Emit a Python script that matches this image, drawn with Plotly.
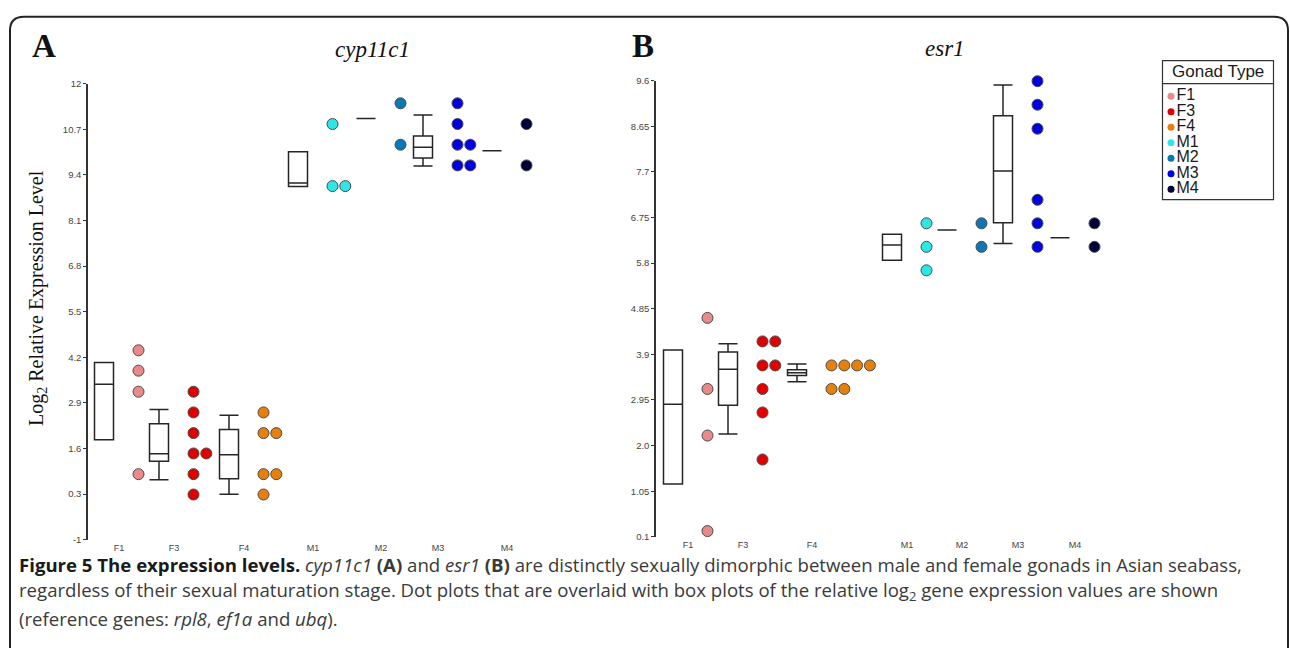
import plotly.graph_objects as go

W, H = 1290, 648

# ---------------- data ----------------
groups = ["F1", "F3", "F4", "M1", "M2", "M3", "M4"]
colors = ["#E88A8A", "#E00000", "#E6800A", "#2EE6E6", "#0A78B4", "#0000E0", "#000038"]

# panel A: cyp11c1 dot values
a_dots = {
    "F1": [4.40, 3.82, 3.22, 0.87],
    "F3": [3.22, 2.63, 2.04, 1.46, 1.46, 0.87, 0.29],
    "F4": [2.63, 2.04, 2.04, 0.87, 0.87, 0.29],
    "M1": [10.85, 9.08, 9.08],
    "M2": [11.44, 10.26],
    "M3": [11.44, 10.85, 10.26, 10.26, 9.67, 9.67],
    "M4": [10.85, 9.67],
}
# panel A box stats: q1, median, q3, lower whisker, upper whisker
a_q1 = [1.85, 1.24, 0.74, 9.07, 11.01, 9.88, 10.09]
a_med = [3.43, 1.45, 1.42, 9.17, 11.01, 10.19, 10.09]
a_q3 = [4.05, 2.31, 2.14, 10.06, 11.01, 10.51, 10.09]
a_lo = [1.85, 0.71, 0.30, 9.07, 11.01, 9.65, 10.09]
a_hi = [4.05, 2.71, 2.55, 10.06, 11.01, 11.11, 10.09]

# panel B: esr1 dot values
b_dots = {
    "F1": [4.66, 3.18, 2.21, 0.22],
    "F3": [4.17, 4.17, 3.67, 3.67, 3.18, 2.69, 1.71],
    "F4": [3.67, 3.67, 3.67, 3.67, 3.18, 3.18],
    "M1": [6.63, 6.14, 5.65],
    "M2": [6.63, 6.14],
    "M3": [9.59, 9.10, 8.60, 7.12, 6.63, 6.14],
    "M4": [6.63, 6.14],
}
b_q1 = [1.20, 2.84, 3.46, 5.86, 6.49, 6.64, 6.33]
b_med = [2.86, 3.59, 3.52, 6.18, 6.49, 7.72, 6.33]
b_q3 = [3.99, 3.95, 3.58, 6.40, 6.49, 8.87, 6.33]
b_lo = [1.20, 2.24, 3.33, 5.86, 6.49, 6.21, 6.33]
b_hi = [3.99, 4.12, 3.70, 6.40, 6.49, 9.51, 6.33]

a_ticks = [-1, 0.3, 1.6, 2.9, 4.2, 5.5, 6.8, 8.1, 9.4, 10.7, 12]
a_ticktext = ["-1", "0.3", "1.6", "2.9", "4.2", "5.5", "6.8", "8.1", "9.4", "10.7", "12"]
b_ticks = [0.1, 1.05, 2.0, 2.95, 3.9, 4.85, 5.8, 6.75, 7.7, 8.65, 9.6]
b_ticktext = ["0.1", "1.05", "2.0", "2.95", "3.9", "4.85", "5.8", "6.75", "7.7", "8.65", "9.6"]

# ---------------- layout constants ----------------
# group slot positions along each x axis (axis units)
a_pos = [31, 86, 156, 225, 293, 350, 419]
b_pos = [32, 87, 156, 251, 306, 362, 419]
BOX_OFF, DOT_OFF, DOT_STEP, BOX_W = -15, 19.5, 12.8, 19

fig = go.Figure()


def add_panel(dots, q1, med, q3, lo, hi, pos, xa, ya):
    for i, g in enumerate(groups):
        fig.add_trace(go.Box(
            x=[pos[i] + BOX_OFF], q1=[q1[i]], median=[med[i]], q3=[q3[i]],
            lowerfence=[lo[i]], upperfence=[hi[i]], width=BOX_W, whiskerwidth=1,
            fillcolor="white", line=dict(color="#262626", width=1.5),
            boxpoints=False, showlegend=False, xaxis=xa, yaxis=ya, hoverinfo="skip"))
        xs, ys, seen = [], [], {}
        for v in dots[g]:
            k = seen.get(v, 0)
            seen[v] = k + 1
            xs.append(pos[i] + DOT_OFF + k * DOT_STEP)
            ys.append(v)
        fig.add_trace(go.Scatter(
            x=xs, y=ys, mode="markers", cliponaxis=False, showlegend=False,
            marker=dict(size=11, color=colors[i], line=dict(color="#4a4a4a", width=1)),
            xaxis=xa, yaxis=ya))


add_panel(a_dots, a_q1, a_med, a_q3, a_lo, a_hi, a_pos, "x", "y")
add_panel(b_dots, b_q1, b_med, b_q3, b_lo, b_hi, b_pos, "x2", "y2")

# custom legend drawn on its own small axis
leg_y = [11.7 + 15.8 * i for i in range(len(groups))]
for i, g in enumerate(groups):
    fig.add_trace(go.Scatter(
        x=[8], y=[leg_y[i]], mode="markers+text", text=[g], textposition="middle right",
        textfont=dict(family="Liberation Sans, Arial", size=16, color="#1a1a1a"),
        marker=dict(size=7, color=colors[i]), showlegend=False, cliponaxis=False,
        xaxis="x3", yaxis="y3"))


def px(x):
    return x / W


def py(y):
    return 1 - y / H


tickfont = dict(family="Liberation Sans Narrow, Arial Narrow, Liberation Sans", size=9.5, color="#444")
xfont = dict(family="Liberation Sans Narrow, Arial Narrow, Liberation Sans", size=9, color="#444")

common_y = dict(showline=True, linecolor="#333", linewidth=1.5, ticks="outside", ticklen=3,
                tickcolor="#333", tickwidth=1.2, showgrid=False, zeroline=False, tickfont=tickfont)
common_x = dict(showline=False, ticks="", showgrid=False, zeroline=False, tickfont=xfont,
                ticklabelstandoff=1)

fig.update_layout(
    width=W, height=H, margin=dict(l=0, r=0, t=0, b=0),
    paper_bgcolor="white", plot_bgcolor="rgba(0,0,0,0)",
    boxmode="overlay", showlegend=False,
    xaxis=dict(domain=[px(88), px(560)], range=[0, 472], anchor="y",
               tickvals=a_pos, ticktext=groups, **common_x),
    yaxis=dict(domain=[py(543), py(79)], range=[-1, 12], anchor="x",
               tickvals=a_ticks, ticktext=a_ticktext, **common_y),
    xaxis2=dict(domain=[px(656), px(1128)], range=[0, 472], anchor="y2",
                tickvals=b_pos, ticktext=groups, **common_x),
    yaxis2=dict(domain=[py(540), py(76)], range=[0.1, 9.6], anchor="x2",
                tickvals=b_ticks, ticktext=b_ticktext, **common_y),
    xaxis3=dict(domain=[px(1163), px(1273)], range=[0, 110], anchor="y3", visible=False),
    yaxis3=dict(domain=[py(196), py(80)], range=[116, 0], anchor="x3", visible=False),
)

# outer rounded border and legend frame
r = 14
x0, y0, x1, y1 = 10, 11, 1288, 720
path = (f"M {px(x0)},{py(y1)} L {px(x0)},{py(y0 + r)} Q {px(x0)},{py(y0)} {px(x0 + r)},{py(y0)} "
        f"L {px(x1 - r)},{py(y0)} Q {px(x1)},{py(y0)} {px(x1)},{py(y0 + r)} L {px(x1)},{py(y1)}")
fig.add_shape(type="path", path=path, xref="paper", yref="paper",
              line=dict(color="#222", width=2))
fig.add_shape(type="rect", xref="paper", yref="paper", x0=px(1162.5), x1=px(1273.5),
              y0=py(197), y1=py(55.5), line=dict(color="#333", width=1.2))
fig.add_shape(type="line", xref="paper", yref="paper", x0=px(1162.5), x1=px(1273.5),
              y0=py(79), y1=py(79), line=dict(color="#333", width=1.2))

serif = "Liberation Serif, Times New Roman, serif"
ann = [
    dict(text="<b>A</b>", x=px(44), y=py(41), font=dict(family=serif, size=33, color="#111")),
    dict(text="<b>B</b>", x=px(643), y=py(41), font=dict(family=serif, size=33, color="#111")),
    dict(text="<i>cyp11c1</i>", x=px(372), y=py(44), font=dict(family=serif, size=23, color="#111")),
    dict(text="<i>esr1</i>", x=px(945), y=py(43), font=dict(family=serif, size=23, color="#111")),
    dict(text="Log<sub>2</sub> Relative Expression Level", x=px(38), y=py(297), textangle=-90,
         font=dict(family=serif, size=20, color="#111")),
    dict(text="Gonad Type", x=px(1218), y=py(67), font=dict(family="Liberation Sans, Arial", size=17, color="#1a1a1a")),
]
for a in ann:
    fig.add_annotation(xref="paper", yref="paper", showarrow=False, xanchor="center", yanchor="middle", **a)

cap_font = dict(family="Open Sans, Noto Sans, sans-serif", size=18.6, color="#3a3a3a")
cap_lines = [
    "<b><span style='color:#1a1a1a'>Figure 5 The expression levels.</span></b> <i>cyp11c1</i> <b>(A)</b> and <i>esr1</i> "
    "<b>(B)</b> are distinctly sexually dimorphic between male and female gonads in Asian seabass,",
    "regardless of their sexual maturation stage. Dot plots that are overlaid with box plots of the relative "
    "log<sub>2</sub> gene expression values are shown",
    "(reference genes: <i>rpl8</i>, <i>ef1a</i> and <i>ubq</i>).",
]
for i, t in enumerate(cap_lines):
    fig.add_annotation(xref="paper", yref="paper", showarrow=False, xanchor="left", yanchor="middle",
                       x=px(17), y=py(568 + 27.5 * i), text=t, font=cap_font)

fig.write_html("out.html", config={"displayModeBar": False},
               post_script="document.body.style.margin='0';document.body.style.overflow='hidden';")
